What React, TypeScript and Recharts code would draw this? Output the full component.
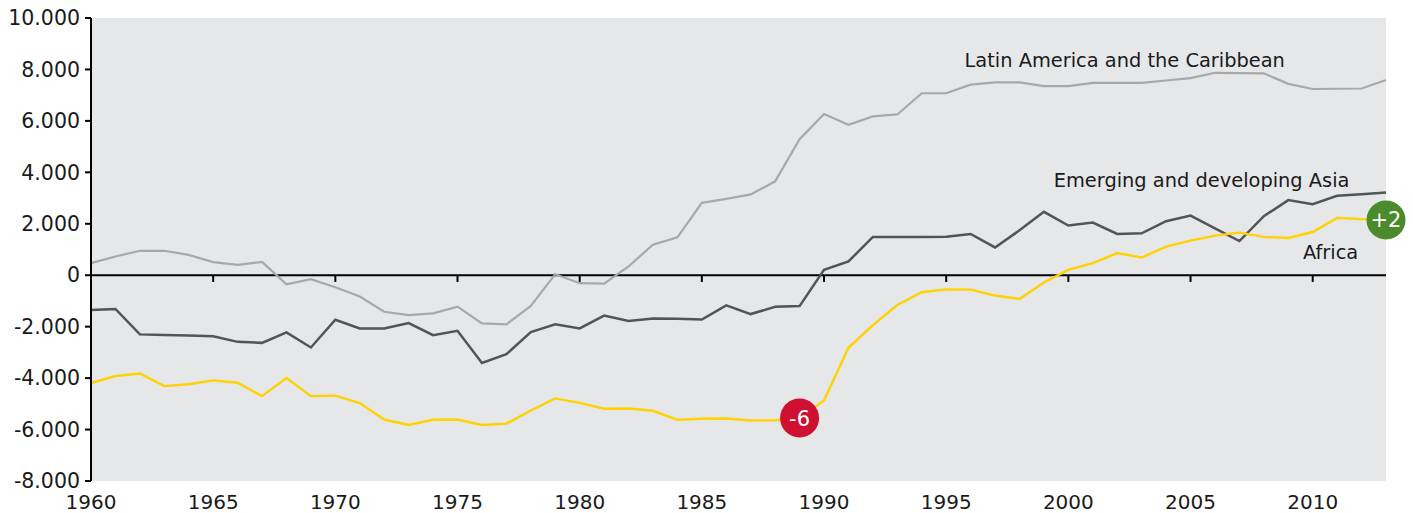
import React from 'react';
import { LineChart, Line, XAxis, YAxis, CartesianGrid, ReferenceLine, ReferenceDot } from 'recharts';

// years on the x axis
const years = [
  1960, 1961, 1962, 1963, 1964, 1965, 1966, 1967, 1968, 1969,
  1970, 1971, 1972, 1973, 1974, 1975, 1976, 1977, 1978, 1979,
  1980, 1981, 1982, 1983, 1984, 1985, 1986, 1987, 1988, 1989,
  1990, 1991, 1992, 1993, 1994, 1995, 1996, 1997, 1998, 1999,
  2000, 2001, 2002, 2003, 2004, 2005, 2006, 2007, 2008, 2009,
  2010, 2011, 2012, 2013,
];

const latinAmerica = [
  470, 730, 950, 950, 790, 510, 405, 520, -350, -150,
  -465, -830, -1420, -1550, -1480, -1220, -1870, -1910, -1195, 40,
  -310, -325, 340, 1190, 1475, 2815, 2970, 3140, 3650, 5290,
  6270, 5850, 6175, 6250, 7075, 7075, 7410, 7500, 7500, 7350,
  7350, 7480, 7480, 7480, 7570, 7660, 7870, 7860, 7850, 7440,
  7240, 7250, 7260, 7590,
];

const asia = [
  -1350, -1310, -2300, -2320, -2340, -2370, -2590, -2630, -2220, -2810,
  -1730, -2070, -2070, -1860, -2330, -2160, -3410, -3070, -2210, -1910,
  -2070, -1570, -1780, -1680, -1690, -1720, -1170, -1510, -1230, -1200,
  210, 535, 1490, 1490, 1490, 1500, 1605, 1080, 1745, 2465,
  1930, 2045, 1605, 1630, 2100, 2320, 1825, 1330, 2295, 2920,
  2760, 3090, 3150, 3220,
];

const africa = [
  -4190, -3920, -3820, -4310, -4240, -4090, -4180, -4700, -4000, -4700,
  -4680, -4970, -5610, -5820, -5620, -5610, -5820, -5770, -5260, -4790,
  -4960, -5190, -5180, -5270, -5620, -5580, -5570, -5650, -5640, -5550,
  -4870, -2820, -1940, -1160, -660, -550, -560, -790, -920, -285,
  210, 470, 860, 690, 1110, 1345, 1540, 1655, 1490, 1450,
  1680, 2230, 2180, 2150,
];

const xTicks = [1960, 1965, 1970, 1975, 1980, 1985, 1990, 1995, 2000, 2005, 2010];
const yTicks = [-8000, -6000, -4000, -2000, 0, 2000, 4000, 6000, 8000, 10000];

// callouts: [year, label, colour]
const callouts: [number, string, string][] = [
  [1989, '-6', '#cf1030'],
  [2013, '+2', '#4c8b2b'],
];

const data = years.map((year, i) => ({
  year,
  latin: latinAmerica[i],
  asia: asia[i],
  africa: africa[i],
}));

const FONT = '"DejaVu Sans", Verdana, sans-serif';
const TEXT = '#1a1a1a';

const fmt = (v: number) => {
  const s = Math.abs(v).toString().replace(/\B(?=(\d{3})+(?!\d))/g, '.');
  return v < 0 ? `-${s}` : s;
};

const seriesLabel = (text: string) => (props: any) => {
  const { viewBox } = props;
  return (
    <text x={viewBox.x} y={viewBox.y} fill={TEXT} fontSize={19.4} fontFamily={FONT} textAnchor="start">
      {text}
    </text>
  );
};

const calloutLabel = (text: string) => (props: any) => {
  const { viewBox } = props;
  const cx = viewBox.x + viewBox.width / 2;
  const cy = viewBox.y + viewBox.height / 2;
  return (
    <text x={cx} y={cy} dy="0.36em" fill="#fff" fontSize={21} fontFamily={FONT} textAnchor="middle">
      {text}
    </text>
  );
};

export default function App() {
  return (
    <div style={{ position: 'absolute', left: 0, top: 0 }}>
      <LineChart width={1413} height={513} data={data} margin={{ top: 18, right: 27, bottom: 0, left: 0 }}>
        <CartesianGrid fill="#e6e7e9" stroke="none" horizontal={false} vertical={false} />
        <XAxis
          dataKey="year"
          type="number"
          domain={[1960, 2013]}
          ticks={xTicks}
          axisLine={false}
          tickLine={false}
          tickSize={0}
          tickMargin={14}
          height={32}
          tick={{ fill: TEXT, fontSize: 20, fontFamily: FONT }}
        />
        <YAxis
          type="number"
          domain={[-8000, 10000]}
          ticks={yTicks}
          width={91}
          tickFormatter={fmt}
          axisLine={{ stroke: '#000', strokeWidth: 2 }}
          tickLine={{ stroke: '#000', strokeWidth: 2 }}
          tickSize={6}
          tickMargin={5}
          tick={{ fill: TEXT, fontSize: 20.5, fontFamily: FONT }}
        />
        <ReferenceLine y={0} stroke="#000" strokeWidth={2} />
        {xTicks.slice(1).map((t) => (
          <ReferenceLine
            key={t}
            segment={[{ x: t, y: 0 }, { x: t, y: -260 }]}
            stroke="#000"
            strokeWidth={2}
          />
        ))}
        <Line type="linear" dataKey="latin" stroke="#a7a8aa" strokeWidth={2.2} dot={false} isAnimationActive={false} />
        <Line type="linear" dataKey="asia" stroke="#545457" strokeWidth={2.5} dot={false} isAnimationActive={false} />
        <Line type="linear" dataKey="africa" stroke="#ffd200" strokeWidth={2.4} dot={false} isAnimationActive={false} />
        <ReferenceDot x={1995.75} y={8110} r={0} label={seriesLabel('Latin America and the Caribbean')} />
        <ReferenceDot x={1999.4} y={3430} r={0} label={seriesLabel('Emerging and developing Asia')} />
        <ReferenceDot x={2009.6} y={640} r={0} label={seriesLabel('Africa')} />
        {callouts.map(([year, text, color]) => (
          <ReferenceDot
            key={year}
            x={year}
            y={africa[years.indexOf(year)]}
            r={19.5}
            fill={color}
            stroke="none"
            label={calloutLabel(text)}
          />
        ))}
      </LineChart>
    </div>
  );
}
